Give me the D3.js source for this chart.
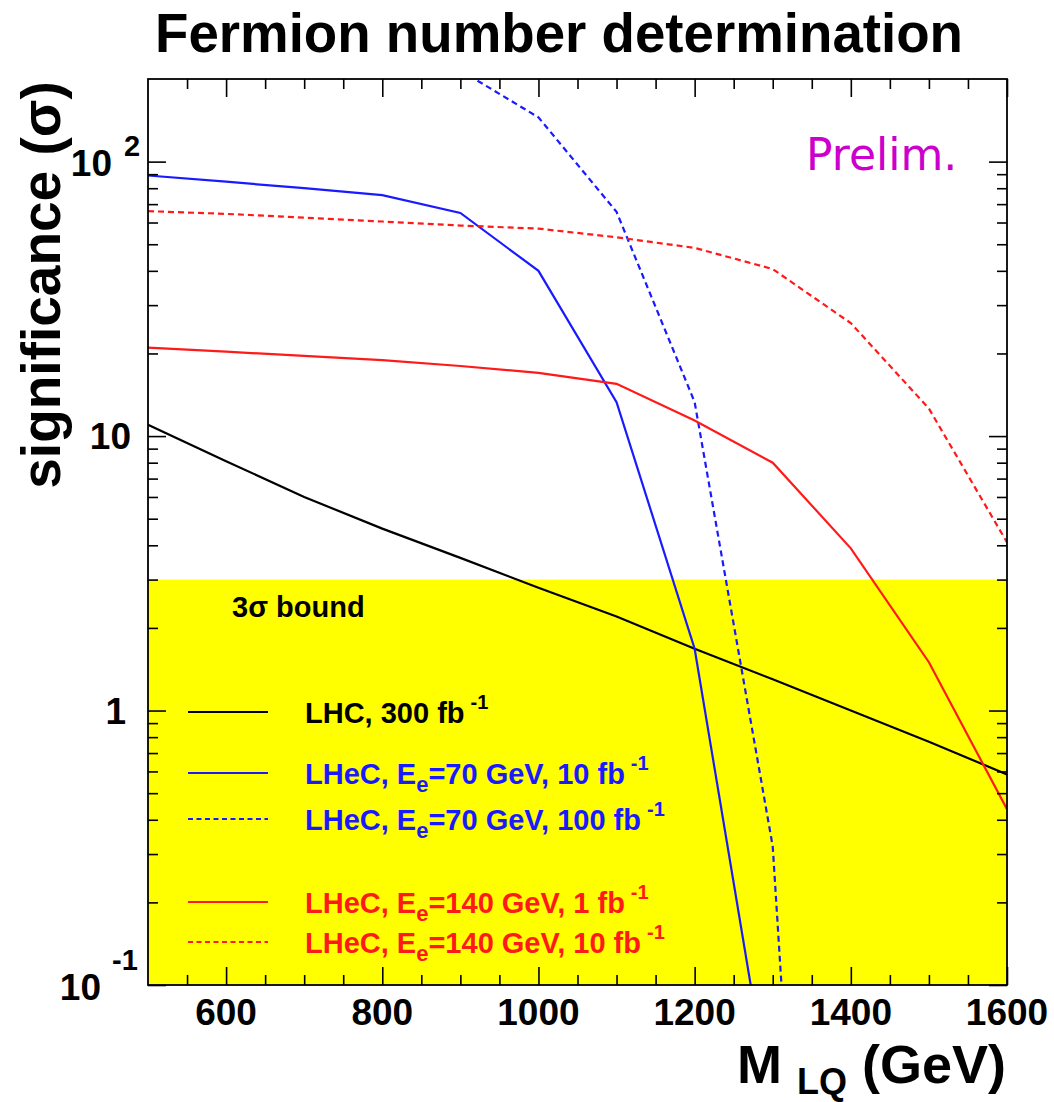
<!DOCTYPE html>
<html><head><meta charset="utf-8">
<script src="https://cdn.jsdelivr.net/npm/d3@7"></script>
<style>body{margin:0;background:#fff} svg{display:block}</style>
</head><body>
<script>
// ---------------- data ----------------
const massesLHC   = [500,600,700,800,900,1000,1100,1200,1300,1400,1500,1600];
const lhc300      = [11.0,8.1,6.0,4.6,3.6,2.8,2.2,1.68,1.3,1.0,0.77,0.585];

const massesE70a  = [500,600,700,800,900,1000,1100,1200,1300];
const e70_10fb    = [89,84.5,80,75.5,65,40,13.3,1.68,0.033];

const massesE70b  = [900,1000,1100,1200,1300,1400];
const e70_100fb   = [215,145,65.6,13.3,0.32,0.00001];

const massesE140  = [500,600,700,800,900,1000,1100,1200,1300,1400,1500,1600];
const e140_1fb    = [21,20.3,19.6,18.9,18.0,17.0,15.5,11.4,8.0,3.9,1.5,0.437];
const e140_10fb   = [66,64.5,62.5,60.5,58.5,57,53,48.5,40.6,25.8,12.6,4.1];

const bound3sigma = 3;
const xMajorTicks = [600,800,1000,1200,1400,1600];
const yMajorTicks = [0.1,1,10,100];

const seriesNames = [
  "LHC, 300 fb",
  "LHeC, E|e|=70 GeV, 10 fb",
  "LHeC, E|e|=70 GeV, 100 fb",
  "LHeC, E|e|=140 GeV, 1 fb",
  "LHeC, E|e|=140 GeV, 10 fb"
];

// ---------------- layout ----------------
const W = 1054, H = 1102;
const L = 148, R = 1007, T = 79, B = 985;
const FONT = "'Liberation Sans', Arial, Helvetica, sans-serif";

const svg = d3.select("body").append("svg").attr("width", W).attr("height", H);

const x = d3.scaleLinear().domain([500,1600]).range([L,R]);
const y = d3.scaleLog().domain([0.1,200]).range([B,T]);

const series = [
  {name: seriesNames[0], m: massesLHC,  v: lhc300,    color: "#000000", dash: null},
  {name: seriesNames[1], m: massesE70a, v: e70_10fb,  color: "#1a1aff", dash: null},
  {name: seriesNames[2], m: massesE70b, v: e70_100fb, color: "#1a1aff", dash: "6,4"},
  {name: seriesNames[3], m: massesE140, v: e140_1fb,  color: "#ff1a1a", dash: null},
  {name: seriesNames[4], m: massesE140, v: e140_10fb, color: "#ff1a1a", dash: "6,4"}
];

// clip
svg.append("defs").append("clipPath").attr("id","plotclip")
  .append("rect").attr("x",L).attr("y",T).attr("width",R-L).attr("height",B-T);

// yellow 3 sigma band
svg.append("rect")
  .attr("x", L).attr("y", y(bound3sigma))
  .attr("width", R-L).attr("height", y(0.1)-y(bound3sigma))
  .attr("fill", "#ffff00");

// lines
const line = d3.line().x(d => x(d[0])).y(d => y(d[1]));
const gLines = svg.append("g").attr("clip-path","url(#plotclip)");
series.forEach(s => {
  gLines.append("path")
    .attr("d", line(s.m.map((m,i)=>[m, s.v[i]])))
    .attr("fill","none").attr("stroke", s.color).attr("stroke-width", 2.2)
    .attr("stroke-dasharray", s.dash);
});

// axes with inward ticks
const xMinor = d3.range(550,1600,50).filter(v => !xMajorTicks.includes(v));
const yMinor = [];
[0.1,1,10,100].forEach(d => { for (let k=2;k<=9;k++){ const v=k*d; if (v<200) yMinor.push(v);} });

function styleAxis(g){ g.select(".domain").remove(); g.selectAll("line").attr("stroke","#000").attr("stroke-width",1.6); }

svg.append("g").attr("transform",`translate(0,${B})`)
  .call(d3.axisBottom(x).tickValues(xMajorTicks).tickSizeInner(-18).tickSizeOuter(0).tickFormat(""))
  .call(styleAxis);
svg.append("g").attr("transform",`translate(0,${B})`)
  .call(d3.axisBottom(x).tickValues(xMinor).tickSizeInner(-10).tickSizeOuter(0).tickFormat(""))
  .call(styleAxis);
svg.append("g").attr("transform",`translate(0,${T})`)
  .call(d3.axisTop(x).tickValues(xMajorTicks).tickSizeInner(-18).tickSizeOuter(0).tickFormat(""))
  .call(styleAxis);
svg.append("g").attr("transform",`translate(0,${T})`)
  .call(d3.axisTop(x).tickValues(xMinor).tickSizeInner(-10).tickSizeOuter(0).tickFormat(""))
  .call(styleAxis);
svg.append("g").attr("transform",`translate(${L},0)`)
  .call(d3.axisLeft(y).tickValues(yMajorTicks).tickSizeInner(-18).tickSizeOuter(0).tickFormat(""))
  .call(styleAxis);
svg.append("g").attr("transform",`translate(${L},0)`)
  .call(d3.axisLeft(y).tickValues(yMinor).tickSizeInner(-10).tickSizeOuter(0).tickFormat(""))
  .call(styleAxis);
svg.append("g").attr("transform",`translate(${R},0)`)
  .call(d3.axisRight(y).tickValues(yMajorTicks).tickSizeInner(-18).tickSizeOuter(0).tickFormat(""))
  .call(styleAxis);
svg.append("g").attr("transform",`translate(${R},0)`)
  .call(d3.axisRight(y).tickValues(yMinor).tickSizeInner(-10).tickSizeOuter(0).tickFormat(""))
  .call(styleAxis);

// frame
svg.append("rect").attr("x",L).attr("y",T).attr("width",R-L).attr("height",B-T)
  .attr("fill","none").attr("stroke","#000").attr("stroke-width",1.8);

// x tick labels
svg.selectAll(".xl").data(xMajorTicks).enter().append("text")
  .attr("x", d => x(d)).attr("y", B+40)
  .attr("text-anchor","middle").attr("font-family",FONT).attr("font-weight","bold")
  .attr("font-size",37).text(d => d);

// y tick labels
function ylab(v, base, exp, baseEnd, expStart, by, ey){
  svg.append("text").attr("x", baseEnd).attr("y", y(v)+by).attr("text-anchor","end")
    .attr("font-family",FONT).attr("font-weight","bold").attr("font-size",37).text(base);
  if (exp) svg.append("text").attr("x", expStart).attr("y", y(v)+ey).attr("text-anchor","start")
    .attr("font-family",FONT).attr("font-weight","bold").attr("font-size",29).text(exp);
}
ylab(100, "10", "2", 112, 124, 14, -6);
ylab(10, "10", null, 131, 0, 13, 0);
ylab(1, "1", null, 126, 0, 13, 0);
ylab(0.1, "10", "-1", 101, 112, 15, -15);

// title
svg.append("text").attr("x", 155).attr("y", 52)
  .attr("font-family",FONT).attr("font-weight","bold").attr("font-size",55)
  .attr("textLength", 808).attr("lengthAdjust","spacingAndGlyphs")
  .text("Fermion number determination");

// y title
svg.append("text").attr("transform","translate(60,285) rotate(-90)")
  .attr("text-anchor","middle").attr("font-family",FONT).attr("font-weight","bold")
  .attr("font-size",55).text("significance (σ)");

// x title
const xt = svg.append("text").attr("x", 1006).attr("y", 1083).attr("text-anchor","end")
  .attr("font-family",FONT).attr("font-weight","bold").attr("font-size",54);
xt.append("tspan").text("M ");
xt.append("tspan").attr("font-size",36).attr("dy",11).text("LQ");
xt.append("tspan").attr("dy",-11).text(" (GeV)");

// Prelim.
svg.append("text").attr("x", 806).attr("y", 170)
  .attr("font-family","'DejaVu Sans', sans-serif").attr("font-size",44)
  .attr("fill","#cc00cc").text("Prelim.");

// 3 sigma bound label
svg.append("text").attr("x", 232).attr("y", 617)
  .attr("font-family",FONT).attr("font-weight","bold").attr("font-size",29)
  .text("3σ bound");

// legend
const legY = [712, 773, 819, 902, 942];
series.forEach((s,i) => {
  const yy = legY[i];
  svg.append("line").attr("x1",188).attr("x2",268).attr("y1",yy).attr("y2",yy)
    .attr("stroke", s.color).attr("stroke-width",1.8).attr("stroke-dasharray", s.dash ? "5,3.5" : null);
  const t = svg.append("text").attr("x",305).attr("y",yy+11)
    .attr("font-family",FONT).attr("font-weight","bold").attr("font-size",29).attr("fill", s.color);
  const parts = s.name.split("|");
  if (parts.length === 1) {
    t.append("tspan").text(parts[0]);
  } else {
    t.append("tspan").text(parts[0]);
    t.append("tspan").attr("font-size",22).attr("dy",8).text(parts[1]);
    t.append("tspan").attr("dy",-8).text(parts[2]);
  }
  t.append("tspan").attr("font-size",20).attr("dy",-14).attr("dx",6).text("-1");
});
</script>
</body></html>
